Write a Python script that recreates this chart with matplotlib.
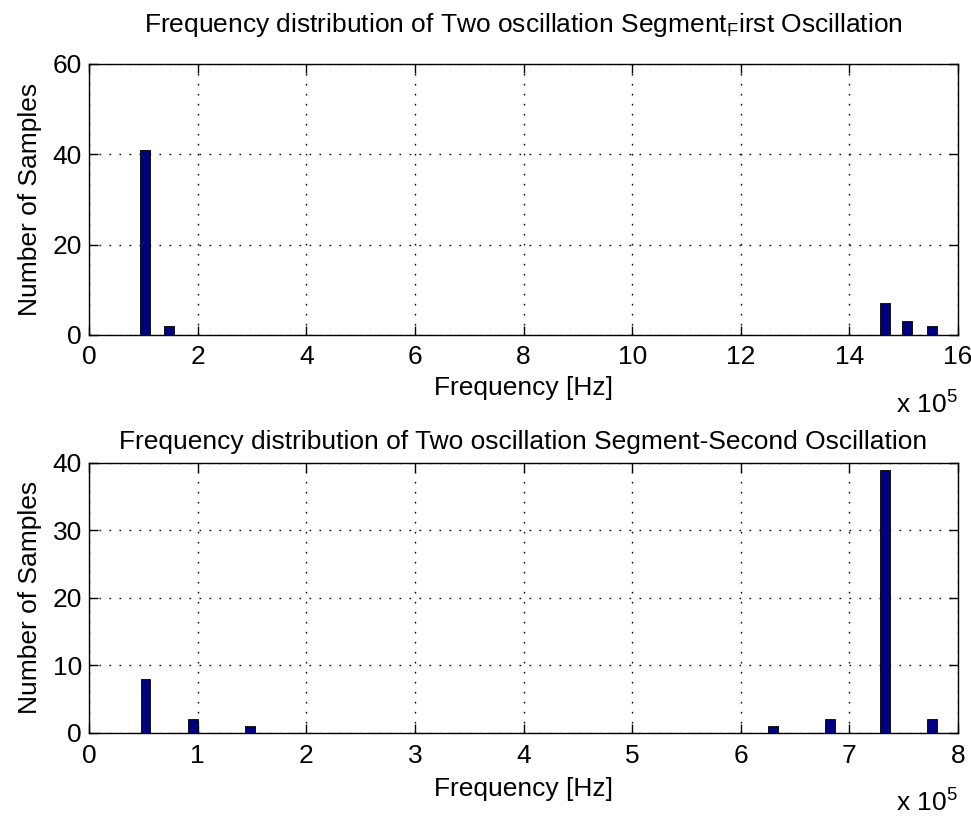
import matplotlib
matplotlib.use("Agg")
import matplotlib.pyplot as plt

plt.rcParams["font.family"] = ["Liberation Sans", "DejaVu Sans"]
plt.rcParams["mathtext.fontset"] = "custom"
plt.rcParams["mathtext.rm"] = "Liberation Sans"
plt.rcParams["mathtext.it"] = "Liberation Sans"

# Histogram bins (frequency in units of 1e5 Hz) and sample counts
first_freq = [1.03, 1.47, 14.66, 15.06, 15.52]
first_count = [41, 2, 7, 3, 2]
second_freq = [0.52, 0.96, 1.48, 6.30, 6.82, 7.33, 7.76]
second_count = [8, 2, 1, 1, 2, 39, 2]

first_xticks = list(range(0, 17, 2))
first_yticks = [0, 20, 40, 60]
second_xticks = list(range(0, 9))
second_yticks = [0, 10, 20, 30, 40]

title_first = r"Frequency distribution of Two oscillation Segment$_{\rm F}$irst Oscillation"
title_second = "Frequency distribution of Two oscillation Segment-Second Oscillation"
xlabel = "Frequency [Hz]"
ylabel = "Number of Samples"
exponent = r"x 10$^{5}$"

bar_color = "#00007a"
FS = 19

fig = plt.figure(figsize=(9.71, 8.16), dpi=100)
ax1 = fig.add_axes([0.0917, 0.5895, 0.8949, 0.3321])
ax2 = fig.add_axes([0.0917, 0.1023, 0.8949, 0.3303])


def style(ax, xticks, yticks, xmax, ymax, xpad, lpad):
    ax.set_xlim(0, xmax)
    ax.set_ylim(0, ymax)
    ax.set_xticks(xticks)
    ax.set_yticks(yticks)
    ax.tick_params(direction="in", length=6.5, width=1.0, labelsize=FS,
                   top=True, right=True)
    ax.tick_params(axis="x", pad=xpad)
    ax.tick_params(axis="y", pad=5)
    ax.grid(True, color="black", linestyle=(0, (1.2, 6.0)), linewidth=1.0)
    ax.set_axisbelow(True)
    for s in ax.spines.values():
        s.set_linewidth(1.0)
    ax.set_xlabel(xlabel, fontsize=FS, labelpad=lpad)
    ax.set_ylabel(ylabel, fontsize=FS, labelpad=8)
    ax.text(1.0, -0.26, exponent, transform=ax.transAxes,
            ha="right", va="center", fontsize=FS)


ax1.bar(first_freq, first_count, width=0.18, color=bar_color,
        edgecolor="black", linewidth=0.6, zorder=3)
style(ax1, first_xticks, first_yticks, 16, 60, 7, 5)
ax1.set_title(title_first, fontsize=FS, pad=23)

ax2.bar(second_freq, second_count, width=0.09, color=bar_color,
        edgecolor="black", linewidth=0.6, zorder=3)
style(ax2, second_xticks, second_yticks, 8, 40, 8.5, 6)
ax2.set_title(title_second, fontsize=FS, pad=10)

fig.savefig("out.png", dpi=100)
